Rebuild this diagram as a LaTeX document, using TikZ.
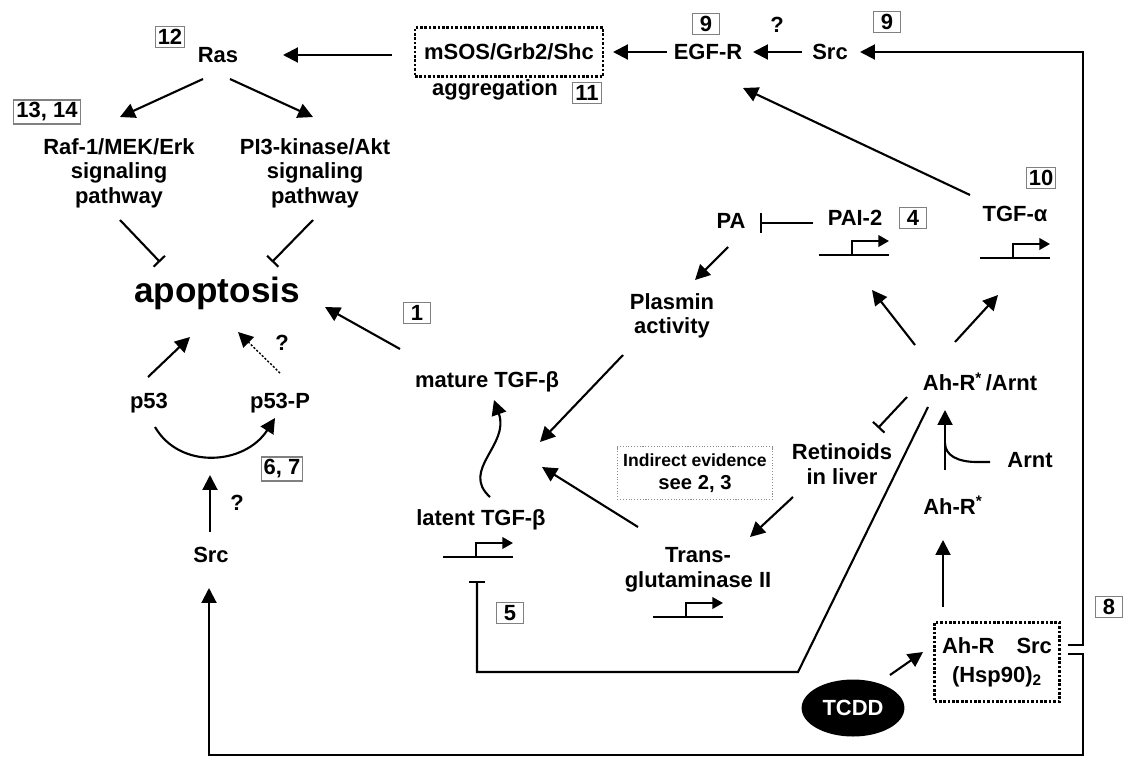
\documentclass[tikz,border=0pt]{standalone}
\usepackage{fontspec}
\setmainfont{Liberation Sans}
\usetikzlibrary{arrows.meta,calc,shapes.geometric}
\tikzset{
  lbl/.style={font=\fontsize{12.5}{14}\selectfont\bfseries, align=center, inner sep=1pt},
  refbox/.style={draw=black!50, line width=0.6pt, font=\fontsize{12.5}{14}\selectfont\bfseries,
    inner sep=1.5pt, minimum width=0.55cm, minimum height=0.4cm},
  act/.style={-{Triangle[length=8.5pt,width=8.5pt]}, line width=1.2pt},
  inh/.style={-{Bar[width=9pt]}, line width=1.2pt},
  dotbox/.style={draw, densely dotted, line width=1.5pt, align=center},
  gene/.pic={
    \draw[line width=1.2pt] (-35,0) -- (35,0);
    \draw[line width=1.2pt, -{Triangle[length=6pt,width=6.5pt]}] (-2,0) -- (-2,-14) -- (35,-14);
  }
}
\begin{document}
\begin{tikzpicture}[x=0.02cm, y=-0.02cm]
    \useasboundingbox (0,0) rectangle (1128,761);
    % upper left: Ras branch
    \node[refbox] (r12) at (170,37) {12};
    \node[lbl] (ras) at (218,55) {Ras};
    \node[refbox] (r1314) at (47,112) {13, 14};
    \node[lbl] (raf) at (119,173) {Raf-1/MEK/Erk\\signaling\\pathway};
    \node[lbl] (pi3k) at (315,173) {PI3-kinase/Akt\\signaling\\pathway};
    \node[font=\fontsize{20}{24}\selectfont\bfseries, inner sep=1pt] (apop) at (217,293) {apoptosis};
    \node[lbl] (p53) at (149,403) {p53};
    \node[lbl] (p53p) at (280,403) {p53-P};
    \node[refbox] (r67) at (282,469) {6, 7};
    \node[lbl] (srcl) at (211,555) {Src};
    \node[lbl] (qa) at (282,343) {?};
    \node[lbl] (qb) at (237,503) {?};
    % top row
    \node[dotbox, minimum width=3.76cm, minimum height=0.98cm] (msos) at (509,52) {};
    \node[lbl] (msostxt) at (509,52) {mSOS/Grb2/Shc};
    \node[lbl] (aggr) at (495,90) {aggregation};
    \node[refbox] (r11) at (587,93) {11};
    \node[lbl] (egfr) at (708,52) {EGF-R};
    \node[refbox] (r9a) at (706,24) {9};
    \node[lbl] (qc) at (777,25) {?};
    \node[lbl] (srct) at (830,52) {Src};
    \node[refbox] (r9b) at (887,22) {9};
    % middle
    \node[refbox] (r1) at (417,313) {1};
    \node[lbl] (mature) at (487,382) {mature TGF-β};
    \node[lbl] (latent) at (481,520) {latent TGF-β};
    \node[refbox] (r5) at (510,613) {5};
    \node[lbl] (tgase) at (698,570) {Trans-\\glutaminase II};
    \node[draw=black!45, densely dotted, line width=0.6pt, minimum width=2.9cm, minimum height=1.06cm,
      align=center, font=\fontsize{10}{13}\selectfont\bfseries] (indir) at (695,473)
      {Indirect evidence\\{\fontsize{11.5}{13}\selectfont see 2, 3}};
    \node[lbl] (plasmin) at (672,316) {Plasmin\\activity};
    \node[lbl] (pa) at (731,221) {PA};
    \node[lbl] (pai) at (855,218) {PAI-2};
    \node[refbox] (r4) at (913,218) {4};
    \node[lbl] (tgfa) at (1015,214) {TGF-α};
    \node[refbox] (r10) at (1041,178) {10};
    \node[lbl] (retin) at (842,464) {Retinoids\\in liver};
    % right: Ah receptor
    \node[lbl] (ahrarnt) at (980,382) {Ah-R\textsuperscript{*}\,/Arnt};
    \node[lbl] (arnt) at (1030,460) {Arnt};
    \node[lbl] (ahr) at (953,505) {Ah-R\textsuperscript{*}};
    \node[dotbox, minimum width=2.5cm, minimum height=1.58cm, font=\fontsize{12.5}{16.5}\selectfont\bfseries]
      (cplx) at (997,662) {Ah-R\quad Src\\(Hsp90)\textsubscript{2}};
    \node[ellipse, fill=black, text=white, minimum width=1.66cm, minimum height=1.14cm,
      font=\fontsize{12.5}{14}\selectfont\bfseries] (tcdd) at (853,708) {TCDD};
    \node[refbox] (r8) at (1109,607) {8};
    \coordinate (conv) at (530,455);
    % genes
    \pic at (1015,258) {gene};
    \pic at (854,255) {gene};
    \pic at (478,557) {gene};
    \pic at (688,617) {gene};
    % connectors
    \draw[act] ($(msos)+(-117,3)$) -- ($(ras)+(65,0)$);
    \draw[act] ($(ras)+(-15,24)$) -- ($(raf)+(1,-56)$);
    \draw[act] ($(ras)+(12,24)$) -- ($(pi3k)+(-2,-56)$);
    \draw[inh] ($(raf)+(1,47)$) -- ($(apop)+(-57,-31)$);
    \draw[inh] ($(pi3k)+(-2,47)$) -- ($(apop)+(55,-31)$);
    \draw[act] ($(mature)+(-87,-33)$) -- ($(apop)+(108,14)$);
    \draw[act] ($(p53)+(-1,-26)$) -- ($(apop)+(-27,44)$);
    \draw[act, densely dotted, line width=0.8pt] ($(p53p)+(0,-30)$) -- ($(apop)+(21,39)$);
    \draw[act] ($(p53)+(6,24)$) .. controls ($(p53)+(31,67)$) and ($(p53p)+(-35,62)$) .. ($(p53p)+(-5,15)$);
    \draw[act] ($(srcl)+(-1,-23)$) -- ($(srcl)+(-1,-80)$);
    \draw[act] ($(srct)+(-28,0)$) -- ($(egfr)+(45,0)$);
    \draw[act] ($(egfr)+(-41,0)$) -- ($(msos)+(104,0)$);
    \draw[act] ($(tgfa)+(-45,-19)$) -- ($(egfr)+(35,36)$);
    \draw[inh, -{Bar[width=11pt]}] ($(pai)+(-42,5)$) -- ($(pa)+(29,2)$);
    \draw[act] ($(pa)+(-3,26)$) -- ($(plasmin)+(23,-36)$);
    \draw[act] ($(plasmin)+(-49,39)$) -- ($(conv)+(10,-13)$);
    \draw[act] ($(tgase)+(-60,-43)$) -- ($(conv)+(12,12)$);
    \draw[act] ($(retin)+(-49,33)$) -- ($(tgase)+(52,-33)$);
    \draw[inh] ($(ahrarnt)+(-73,15)$) -- ($(retin)+(36,-36)$);
    \draw[act] ($(ahrarnt)+(-65,-37)$) -- ($(pai)+(17,72)$);
    \draw[act] ($(ahrarnt)+(-25,-40)$) -- ($(tgfa)+(-17,81)$);
    \draw[act] ($(ahr)+(-8,-35)$) -- ($(ahrarnt)+(-35,28)$);
    \draw[line width=1.2pt] ($(arnt)+(-40,2)$) -- ++(-13,0)
      .. controls ++(-20,0) and ++(0,12) .. ($(ahrarnt)+(-35,61)$);
    \draw[act] ($(cplx)+(-54,-55)$) -- ($(ahr)+(-10,35)$);
    \draw[act] ($(tcdd)+(37,-33)$) -- ($(cplx)+(-74,-10)$);
    \draw[act] ($(latent)+(9,-23)$) .. controls ($(latent)+(-21,-50)$) and ($(latent)+(29,-75)$) .. ($(mature)+(7,18)$);
    \draw[inh] ($(ahrarnt)+(-52,25)$) -- ++(-130,265) -| ($(latent)+(-4,61)$);
    \draw[act] ($(cplx)+(71,-17)$) -- ++(15,0) |- ($(srct)+(30,0)$);
    \draw[act] ($(cplx)+(71,-8)$) -- ++(15,0) -- ++(0,101) -| ($(srcl)+(-2,33)$);
\end{tikzpicture}
\end{document}
